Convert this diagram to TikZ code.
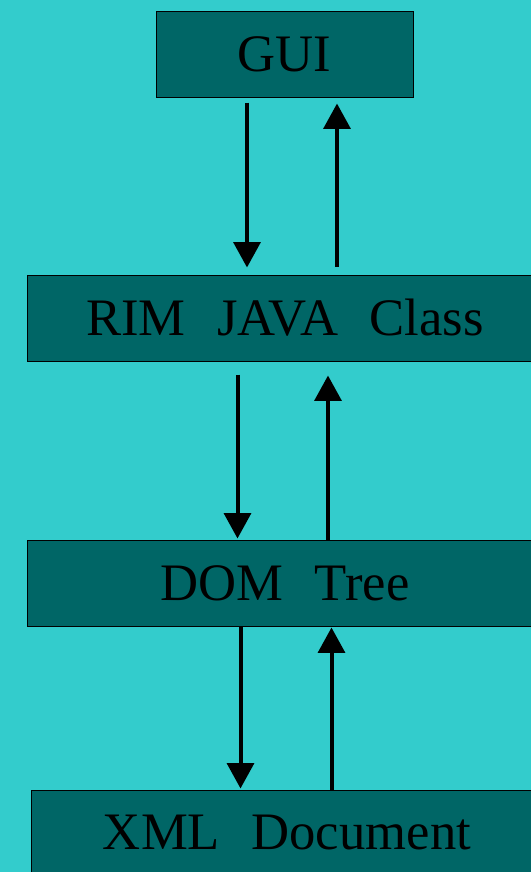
\documentclass[tikz,border=0pt]{standalone}
\usepackage{fontspec}
\setmainfont{Liberation Serif}
\usetikzlibrary{arrows.meta}

\definecolor{sea}{HTML}{33CCCC}
\definecolor{teal}{HTML}{006666}

\begin{document}
\begin{tikzpicture}[x=0.75pt,y=-0.75pt,
		box/.style={draw=black, line width=0.75pt, fill=teal, inner sep=0pt,
			minimum height=64.5pt, font=\fontsize{39.5}{47}\selectfont},
		flow/.style={-{Triangle[width=20pt,length=19pt]}, line width=3pt}]
			\useasboundingbox (0,0) rectangle (531,872);
			\clip (0,0) rectangle (531,872);
			\fill[sea] (0,0) rectangle (531,872);
			\node[box, minimum width=192.75pt] (G) at (284.5,54) {GUI};
			\node[box, minimum width=387pt] (R) at (285,318) {RIM\hspace{0.6em}JAVA\hspace{0.6em}Class};
			\node[box, minimum width=387pt] (D) at (285,583) {DOM\hspace{0.6em}Tree};
			\node[box, minimum width=384pt] (X) at (287,833) {XML\hspace{0.6em}Document};
			% two arrows between each pair of boxes
			\draw[flow] ([shift={(-37.5,5)}]G.south) -- ([shift={(-38,-7)}]R.north);
			\draw[flow] ([shift={(52,-8)}]R.north) -- ([shift={(52.5,6)}]G.south);
			\draw[flow] ([shift={(-47.5,13)}]R.south) -- ([shift={(-47.5,-1)}]D.north);
			\draw[flow] ([shift={(43,0)}]D.north) -- ([shift={(43,14)}]R.south);
			\draw[flow] ([shift={(-44.5,0)}]D.south) -- ([shift={(-46.5,-1)}]X.north);
			\draw[flow] ([shift={(44.5,0)}]X.north) -- ([shift={(46.5,1)}]D.south);
		\end{tikzpicture}
\end{document}
